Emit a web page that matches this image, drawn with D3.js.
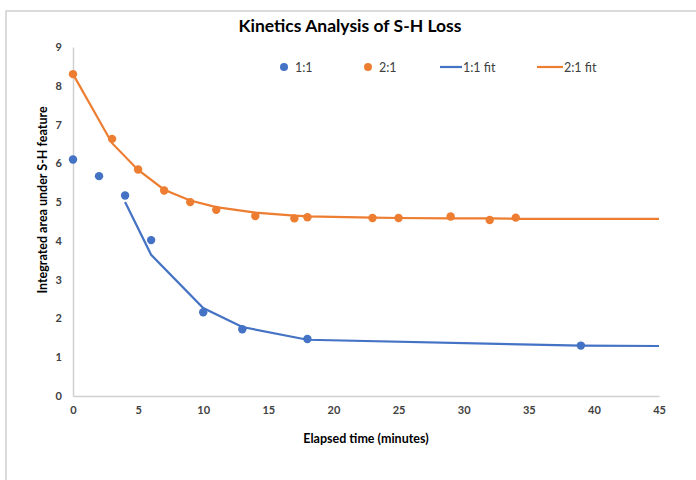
<!DOCTYPE html>
<html>
<head>
<meta charset="utf-8">
<style>
    body { margin: 0; background: white; }
    .tick text { font-family: Lato, "Open Sans", sans-serif; font-weight: bold; font-size: 11px; fill: #404040; }
    .titre { font-family: Lato, "Open Sans", sans-serif; font-weight: bold; fill: #000; }
    .legende text { font-family: Lato, "Open Sans", sans-serif; font-size: 12.5px; fill: #404040; }
</style>
</head>
<body>
<div id="chart"></div>
<script src="https://cdn.jsdelivr.net/npm/d3@7"></script>
<script>

//////////////////// donnees ////////////////////
const x_11 = [0, 2, 4, 6, 10, 13, 18, 39];
const y_11 = [6.1, 5.67, 5.17, 4.02, 2.16, 1.72, 1.47, 1.3];

const x_21 = [0, 3, 5, 7, 9, 11, 14, 17, 18, 23, 25, 29, 32, 34];
const y_21 = [8.3, 6.63, 5.84, 5.3, 5.0, 4.8, 4.64, 4.58, 4.61, 4.59, 4.59, 4.63, 4.54, 4.6];

const x_fit_11 = [4, 6, 10, 13, 18, 39, 45];
const y_fit_11 = [5.0, 3.64, 2.27, 1.78, 1.45, 1.3, 1.29];

const x_fit_21 = [0, 3, 5, 7, 9, 11, 14, 17, 18, 23, 25, 29, 32, 34, 45];
const y_fit_21 = [8.3, 6.52, 5.83, 5.32, 5.04, 4.87, 4.73, 4.65, 4.63, 4.6, 4.59, 4.58, 4.58, 4.57, 4.57];

const x_ticks = [0, 5, 10, 15, 20, 25, 30, 35, 40, 45];
const y_ticks = [0, 1, 2, 3, 4, 5, 6, 7, 8, 9];

const BLEU = '#4472C4';
const ORANGE = '#ED7D31';

//////////////////// dimensions ////////////////////
let W = 696, H = 480;
let X0 = 73, X1 = 659, Y0 = 396, Y1 = 47;

let svg = d3.select('#chart').append('svg')
    .attr('width', W)
    .attr('height', H);

// cadre
svg.append('rect')
    .attr('x', 6).attr('y', 11)
    .attr('width', 720).attr('height', 500)
    .attr('fill', 'white')
    .attr('stroke', '#d0d0d0')
    .attr('stroke-width', 1.5);

let x = d3.scaleLinear().domain([0, 45]).range([X0, X1]);
let y = d3.scaleLinear().domain([0, 9]).range([Y0, Y1]);

// axes
let axeX = svg.append('g')
    .attr('transform', `translate(0, ${Y0})`)
    .call(d3.axisBottom(x).tickValues(x_ticks).tickSize(0).tickPadding(10));
axeX.select('.domain').attr('stroke', '#d0d0d0').attr('stroke-width', 1.5);

let axeY = svg.append('g')
    .attr('transform', `translate(${X0}, 0)`)
    .call(d3.axisLeft(y).tickValues(y_ticks).tickSize(0).tickPadding(11));
axeY.select('.domain').attr('stroke', '#d0d0d0').attr('stroke-width', 1.5);

// titres
svg.append('text')
    .classed('titre', true)
    .attr('x', 350).attr('y', 32)
    .attr('text-anchor', 'middle')
    .attr('font-size', 17.5)
    .text('Kinetics Analysis of S-H Loss');

svg.append('text')
    .classed('titre', true)
    .attr('x', 366).attr('y', 443)
    .attr('text-anchor', 'middle')
    .attr('font-size', 12.5)
    .text('Elapsed time (minutes)');

svg.append('text')
    .classed('titre', true)
    .attr('transform', `translate(47, 200) rotate(-90)`)
    .attr('text-anchor', 'middle')
    .attr('font-size', 12.5)
    .text('Integrated area under S-H feature');

// courbes fit
let ligne = d3.line().x(d => x(d[0])).y(d => y(d[1]));

svg.append('path')
    .attr('d', ligne(d3.zip(x_fit_21, y_fit_21)))
    .attr('fill', 'none').attr('stroke', ORANGE).attr('stroke-width', 2.2);

svg.append('path')
    .attr('d', ligne(d3.zip(x_fit_11, y_fit_11)))
    .attr('fill', 'none').attr('stroke', BLEU).attr('stroke-width', 2.2);

// points
svg.append('g').selectAll('circle')
    .data(d3.zip(x_11, y_11))
    .join('circle')
    .attr('cx', d => x(d[0])).attr('cy', d => y(d[1]))
    .attr('r', 4.2).attr('fill', BLEU);

svg.append('g').selectAll('circle')
    .data(d3.zip(x_21, y_21))
    .join('circle')
    .attr('cx', d => x(d[0])).attr('cy', d => y(d[1]))
    .attr('r', 4.2).attr('fill', ORANGE);

// legende
let leg = svg.append('g').classed('legende', true);
let legY = 67;

leg.append('circle').attr('cx', 284).attr('cy', legY).attr('r', 4).attr('fill', BLEU);
leg.append('text').attr('x', 295).attr('y', legY + 4.5).text('1:1');

leg.append('circle').attr('cx', 368).attr('cy', legY).attr('r', 4).attr('fill', ORANGE);
leg.append('text').attr('x', 379).attr('y', legY + 4.5).text('2:1');

leg.append('path').attr('d', `M 440 ${legY} L 462 ${legY}`).attr('stroke', BLEU).attr('stroke-width', 2.2);
leg.append('text').attr('x', 463).attr('y', legY + 4.5).text('1:1 fit');

leg.append('path').attr('d', `M 537 ${legY} L 563 ${legY}`).attr('stroke', ORANGE).attr('stroke-width', 2.2);
leg.append('text').attr('x', 564).attr('y', legY + 4.5).text('2:1 fit');

</script>
</body>
</html>
